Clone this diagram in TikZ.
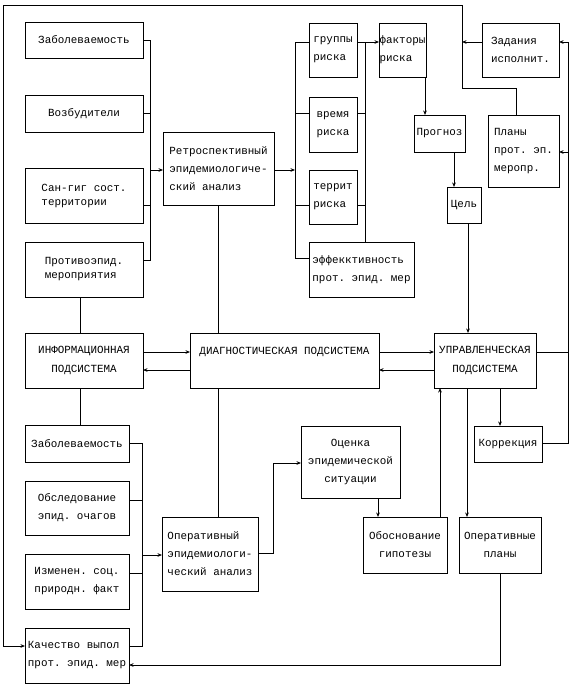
\documentclass[tikz,border=0pt]{standalone}
\usepackage{fontspec}
\newfontfamily\rf{Liberation Mono}
\usetikzlibrary{arrows.meta}
\newcommand\bx[7][]{\node[box,minimum width={(#5)-(#3)},minimum height={(#6)-(#4)},#1] (#2) at ({((#3)+(#5))/2},{((#4)+(#6))/2}) {#7};}
\begin{document}
\begin{tikzpicture}[x=1pt,y=-1pt,
  box/.style={draw,line width=0.9pt,inner sep=0pt,outer sep=0pt,align=left,
    font=\rf\frenchspacing\fontsize{10.9}{18}\selectfont},
  tight/.style={font=\rf\frenchspacing\fontsize{10.9}{14}\selectfont},
  sub/.style={align=center,font=\rf\frenchspacing\fontsize{10.9}{19}\selectfont},
  ln/.style={line width=0.9pt},
  arr/.style={line width=0.9pt,-{Stealth[length=4.5pt,width=3.6pt]}}]
\useasboundingbox (0,0) rectangle (572,690);
% upper left column
\bx{za}{25}{22}{143}{58}{Заболеваемость}
\bx{vz}{25}{95}{143}{132}{Возбудители}
\bx[tight]{sg}{25}{168}{143}{223}{Сан-гиг сост.\\территории}
\bx[tight]{pr}{25}{242}{143}{297}{Противоэпид.\\мероприятия}
\bx{ret}{163}{132}{274}{205}{Ретроспективный\\эпидемиологиче-\\ский анализ}
% risk column
\bx{gr}{309}{23}{357}{77}{группы\\риска}
\bx{vr}{309}{97}{357}{152}{время\\риска}
\bx{tr}{309}{170}{357}{224}{террит\\риска}
\bx{ef}{309}{242}{414}{297}{эффекктивность\\прот. эпид. мер}
\bx{fk}{379}{23}{426}{77}{факторы\\риска}
\bx{pg}{414}{115}{465}{152}{Прогноз}
\bx{cl}{447}{187}{481}{223}{Цель}
\bx{zd}{482}{23}{559}{77}{Задания\\исполнит.}
\bx{pl}{488}{115}{559}{187}{Планы\\прот. эп.\\меропр.}
% subsystems
\bx[sub]{inf}{25}{333}{143}{388}{ИНФОРМАЦИОННАЯ\\ПОДСИСТЕМА}
\bx[sub]{dg}{190}{333}{379}{388}{ДИАГНОСТИЧЕСКАЯ ПОДСИСТЕМА\\\mbox{}}
\bx[sub]{upr}{434}{333}{536}{388}{УПРАВЛЕНЧЕСКАЯ\\ПОДСИСТЕМА}
% lower left column
\bx{zb}{25}{425}{129}{462}{Заболеваемость}
\bx{ob}{25}{481}{129}{535}{Обследование\\эпид. очагов}
\bx{iz}{25}{554}{129}{609}{Изменен. соц.\\природн. факт}
\bx{kch}{25}{628}{129}{683}{Качество выпол\\прот. эпид. мер}
\bx{op}{162}{517}{258}{591}{Оперативный\\эпидемиологи-\\ческий анализ}
\bx[align=center]{oc}{301}{426}{400}{498}{Оценка\\эпидемической\\ситуации}
\bx[align=center]{obs}{363}{517}{447}{573}{Обоснование\\гипотезы}
\bx[align=center]{opl}{459}{517}{541}{573}{Оперативные\\планы}
\bx{kor}{474}{426}{542}{462}{Коррекция}
% bus coordinates
\coordinate (b1t) at (150,40);
\coordinate (b1b) at (150,260);
\coordinate (b2t) at (295,42);
\coordinate (b2b) at (295,258);
\coordinate (b3t) at (365,42);
\coordinate (b4t) at (142,443);
\coordinate (b4b) at (142,646);
\coordinate (rt) at (568,42);
\coordinate (rb) at (568,443);
\coordinate (tl) at (3,5);
\coordinate (tr1) at (462,5);
\coordinate (tr2) at (462,88);
\coordinate (tr3) at (516,88);
\coordinate (ob1) at (273,553);
\coordinate (ob2) at (273,463);
\coordinate (pb) at (500,665);
% upper left bus
\draw[ln] (za.east) -- (b1t) -- (b1b) -- (pr.east |- b1b);
\draw[ln] (vz.east) -- (vz.east -| b1t);
\draw[ln] (sg.east |- 0,205) -- (150,205);
\draw[arr] (150,170) -- (ret.west |- 0,170);
% retro -> risk bus
\draw[arr] (ret.east |- 0,170) -- (295,170);
\draw[ln] (gr.west |- b2t) -- (b2t) -- (b2b) -- (ef.west |- b2b);
\draw[ln] (vr.west |- 0,113) -- (295,113);
\draw[ln] (tr.west |- 0,205) -- (295,205);
\draw[ln] (gr.east |- b3t) -- (b3t) -- (b3t |- ef.north);
\draw[arr] (b3t) -- (fk.west |- b3t);
\draw[ln] (vr.east |- 0,113) -- (365,113);
\draw[ln] (tr.east |- 0,205) -- (365,205);
% forecast chain
\draw[arr] (fk.south -| 425,0) -- (pg.north -| 425,0);
\draw[arr] (pg.south -| 454,0) -- (cl.north -| 454,0);
\draw[arr] (cl.south -| 468,0) -- (upr.north -| 468,0);
% outer top loop
\draw[arr] (pl.north -| tr3) -- (tr3) -- (tr2) -- (tr1) -- (tl) -- (tl |- b4b) -- (kch.west |- b4b);
\draw[arr] (zd.west |- rt) -- (462,42);
% right loop
\draw[ln] (upr.east |- 0,352) -- (568,352);
\draw[ln] (kor.east |- rb) -- (rb) -- (rt);
\draw[arr] (rt) -- (zd.east |- rt);
\draw[arr] (568,152) -- (pl.east |- 0,152);
% vertical links
\draw[ln] (pr.south -| 80,0) -- (inf.north -| 80,0);
\draw[ln] (inf.south -| 80,0) -- (zb.north -| 80,0);
\draw[ln] (ret.south -| 218,0) -- (dg.north -| 218,0);
\draw[ln] (dg.south -| 218,0) -- (op.north -| 218,0);
% subsystem arrows
\draw[arr] (inf.east |- 0,352) -- (dg.west |- 0,352);
\draw[arr] (dg.west |- 0,370) -- (inf.east |- 0,370);
\draw[arr] (dg.east |- 0,352) -- (upr.west |- 0,352);
\draw[arr] (upr.west |- 0,370) -- (dg.east |- 0,370);
% lower left bus
\draw[ln] (zb.east |- b4t) -- (b4t) -- (b4b) -- (kch.east |- b4b);
\draw[ln] (ob.east |- 0,500) -- (142,500);
\draw[ln] (iz.east |- 0,573) -- (142,573);
\draw[arr] (142,555) -- (op.west |- 0,555);
% operative chain
\draw[arr] (op.east |- ob1) -- (ob1) -- (ob2) -- (oc.west |- ob2);
\draw[arr] (oc.south -| 378,0) -- (obs.north -| 378,0);
\draw[arr] (obs.north -| 440,0) -- (upr.south -| 440,0);
\draw[arr] (upr.south -| 467,0) -- (opl.north -| 467,0);
\draw[arr] (upr.south -| 500,0) -- (kor.north -| 500,0);
\draw[arr] (opl.south -| pb) -- (pb) -- (kch.east |- pb);
\end{tikzpicture}
\end{document}
